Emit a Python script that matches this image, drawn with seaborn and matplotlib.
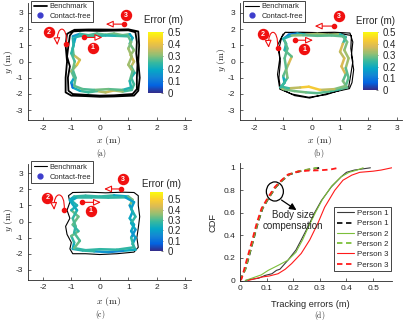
import numpy as np
import pandas as pd
import matplotlib
matplotlib.use("Agg")
import matplotlib.pyplot as plt
import seaborn as sns
from matplotlib.collections import LineCollection
from matplotlib.colors import LinearSegmentedColormap, Normalize
from matplotlib.patches import FancyArrowPatch, Ellipse
from matplotlib.path import Path
from matplotlib.lines import Line2D
from matplotlib.cm import ScalarMappable

# ---------------- data ----------------
# Panel (a) benchmark trajectory (two laps)
bench_a_x = [-0.95, -0.5, 0.0, 0.5, 1.0, 1.25, 1.3, 1.28, 1.32, 1.3, 1.3, 1.15, 0.5, 0.0, -0.5, -0.95, -1.1, -1.12, -1.05, -1.15, -1.1, -1.05, -0.9,
             -0.4, 0.0, 0.5, 1.0, 1.35, 1.38, 1.35, 1.4, 1.35, 1.2, 0.5, 0.0, -0.5, -1.0, -1.2, -1.2, -1.15, -1.2, -1.15, -0.95]
bench_a_y = [1.85, 1.9, 1.88, 1.9, 1.92, 1.8, 1.2, 0.5, -0.2, -1.0, -1.7, -2.0, -2.08, -2.1, -2.05, -2.0, -1.8, -1.0, -0.3, 0.3, 1.0, 1.6, 1.95,
             1.97, 1.97, 1.96, 1.98, 1.85, 1.0, 0.0, -1.0, -1.8, -2.1, -2.15, -2.17, -2.13, -2.1, -1.9, -1.0, 0.0, 1.0, 1.7, 1.9]
# Panel (a) contact-free trajectory with its error (m)
track_a_x = [-0.95, -0.7, -0.4, -0.1, 0.2, 0.5, 0.8, 1.05, 1.15, 1.05, 1.2, 1.08, 1.2, 1.1, 1.22, 1.1, 1.2, 1.12, 0.8, 0.5, 0.2, -0.1, -0.4, -0.7,
             -0.95, -1.0, -0.9, -1.0, -0.8, -0.7, -0.92, -0.95, -0.9, -0.85, -0.6, -0.2, 0.2, 0.6, 1.0, 1.1, 1.0, 1.12, 1.0, 1.15, 1.05, 1.1,
             0.8, 0.3, -0.2, -0.6, -0.9, -0.85, -0.95, -0.88, -1.0, -0.92, -0.95]
track_a_y = [1.55, 1.7, 1.62, 1.72, 1.65, 1.72, 1.62, 1.68, 1.45, 1.1, 0.7, 0.4, 0.0, -0.3, -0.7, -1.0, -1.4, -1.75, -1.85, -1.78, -1.9, -1.82, -1.9, -1.8,
             -1.6, -1.3, -1.0, -0.6, -0.2, 0.1, 0.4, 0.8, 1.2, 1.5, 1.6, 1.55, 1.6, 1.58, 1.55, 1.2, 0.8, 0.3, -0.2, -0.6, -1.2, -1.6,
             -1.75, -1.7, -1.75, -1.7, -1.5, -1.0, -0.5, 0.0, 0.5, 1.0, 1.45]
track_a_e = [0.10, 0.22, 0.28, 0.25, 0.30, 0.27, 0.32, 0.25, 0.12, 0.30, 0.28, 0.35, 0.40, 0.30, 0.25, 0.20, 0.30, 0.22, 0.30, 0.35, 0.38, 0.30, 0.22, 0.28,
             0.12, 0.06, 0.30, 0.25, 0.40, 0.42, 0.30, 0.25, 0.20, 0.15, 0.30, 0.22, 0.25, 0.20, 0.30, 0.25, 0.35, 0.30, 0.35, 0.30, 0.25, 0.20,
             0.25, 0.30, 0.28, 0.25, 0.30, 0.25, 0.28, 0.30, 0.22, 0.25, 0.20]

# Panel (b)
bench_b_x = [-0.93, -0.4, 0.2, 0.8, 1.35, 1.45, 1.4, 1.48, 1.42, 1.33, 0.6, -0.07, -0.6, -1.1, -1.15, -1.1, -1.15, -1.05, -0.93,
             -0.5, 0.3, 1.0, 1.4, 1.38, 1.45, 1.36, 1.3, 0.5, -0.1, -0.7, -1.12, -1.2, -1.12, -1.2, -1.0]
bench_b_y = [1.79, 1.8, 1.78, 1.8, 1.75, 1.2, 0.4, -0.5, -1.3, -1.67, -1.95, -2.25, -2.1, -1.67, -1.0, 0.0, 0.8, 1.5, 1.79,
             1.76, 1.74, 1.72, 1.6, 0.8, 0.0, -1.0, -1.6, -2.05, -2.2, -2.0, -1.7, -0.8, 0.2, 1.0, 1.7]
track_b_x = [-0.95, -0.8, -0.5, -0.2, 0.2, 0.6, 1.0, 1.2, 1.1, 1.0, 1.15, 1.05, 1.2, 1.1, 1.25, 1.0, 0.6, 0.2, -0.2, -0.6, -1.0, -1.1,
             -0.95, -1.0, -0.9, -0.8, -0.7, -0.95, -0.9, -1.0, -0.7, -0.3, 0.2, 0.7, 1.1, 1.25, 1.15, 1.3, 1.2, 1.3, 1.2, 0.8, 0.3,
             -0.1, -0.4, -0.8, -1.05, -0.85, -0.9, -0.95, -0.85, -0.95]
track_b_y = [1.45, 1.65, 1.72, 1.65, 1.7, 1.65, 1.68, 1.5, 1.1, 0.6, 0.2, -0.3, -0.8, -1.2, -1.6, -1.7, -1.85, -1.95, -1.9, -1.82, -1.7, -1.6,
             -1.3, -0.9, -0.5, -0.1, 0.3, 0.7, 1.1, 1.4, 1.6, 1.62, 1.58, 1.6, 1.55, 1.2, 0.7, 0.2, -0.4, -1.0, -1.5, -1.7, -1.75,
             -1.55, -1.6, -1.65, -1.55, -1.0, -0.4, 0.2, 0.8, 1.3]
track_b_e = [0.10, 0.15, 0.08, 0.35, 0.30, 0.35, 0.30, 0.15, 0.35, 0.40, 0.30, 0.45, 0.30, 0.25, 0.35, 0.20, 0.30, 0.25, 0.30, 0.28, 0.30, 0.35,
             0.10, 0.30, 0.25, 0.40, 0.35, 0.20, 0.25, 0.15, 0.30, 0.30, 0.25, 0.30, 0.25, 0.30, 0.30, 0.35, 0.30, 0.25, 0.30, 0.30, 0.40,
             0.45, 0.40, 0.30, 0.20, 0.30, 0.30, 0.25, 0.30, 0.25]

# Panel (c)
bench_c_x = [-0.95, -0.4, 0.2, 0.8, 1.2, 1.35, 1.35, 1.4, 1.35, 1.3, 1.35, 1.2, 0.6, 0.0, -0.5, -0.95, -1.05, -1.0, -1.15, -1.2, -1.05, -1.15, -1.05, -1.1, -0.95]
bench_c_y = [1.8, 1.82, 1.78, 1.82, 1.8, 1.6, 1.0, 0.3, -0.4, -1.0, -1.6, -1.9, -2.0, -2.05, -2.0, -2.0, -1.7, -1.3, -0.8, -0.3, 0.2, 0.7, 1.2, 1.6, 1.8]
track_c_x = [-1.05, -0.9, -0.5, 0.0, 0.5, 1.0, 1.15, 1.05, 1.15, 1.05, 1.2, 1.1, 1.25, 1.15, 1.25, 0.8, 0.3, -0.2, -0.6, -0.95, -0.9, -1.0,
             -0.75, -0.95, -0.75, -1.0, -0.8, -1.0, -0.8, -0.3, 0.3, 0.9, 1.2, 1.1, 1.25, 1.1, 1.25, 1.1, 1.2, 0.6, 0.0, -0.5, -0.9,
             -0.7, -0.9, -0.85, -0.95, -0.8, -1.05]
track_c_y = [1.35, 1.55, 1.6, 1.55, 1.62, 1.55, 1.35, 1.0, 0.6, 0.2, -0.2, -0.6, -1.0, -1.4, -1.75, -1.82, -1.9, -1.85, -1.8, -1.7, -1.3, -0.9,
             -0.6, -0.2, 0.3, 0.7, 1.0, 1.3, 1.5, 1.5, 1.48, 1.5, 1.2, 0.8, 0.3, -0.1, -0.5, -1.0, -1.6, -1.75, -1.72, -1.78, -1.65,
             -1.2, -0.7, -0.3, 0.2, 0.7, 1.3]
track_c_e = [0.15, 0.30, 0.25, 0.30, 0.25, 0.20, 0.45, 0.25, 0.10, 0.30, 0.15, 0.30, 0.10, 0.30, 0.25, 0.20, 0.10, 0.25, 0.30, 0.20, 0.25, 0.30,
             0.35, 0.20, 0.45, 0.20, 0.30, 0.20, 0.25, 0.30, 0.25, 0.30, 0.10, 0.30, 0.20, 0.35, 0.10, 0.25, 0.30, 0.25, 0.30, 0.25, 0.30,
             0.35, 0.25, 0.30, 0.30, 0.25, 0.20]

# Panel (d) CDF curves
p1_solid_x = [0.02, 0.04, 0.07, 0.094, 0.12, 0.137, 0.15, 0.18, 0.21, 0.23, 0.256, 0.28, 0.306, 0.343, 0.38, 0.40, 0.43, 0.46, 0.49]
p1_solid_y = [0.0, 0.01, 0.02, 0.045, 0.06, 0.09, 0.10, 0.18, 0.27, 0.36, 0.48, 0.60, 0.71, 0.83, 0.92, 0.96, 0.98, 0.99, 1.0]
p2_solid_x = [0.02, 0.056, 0.08, 0.106, 0.143, 0.18, 0.21, 0.235, 0.26, 0.285, 0.31, 0.345, 0.38, 0.41, 0.44, 0.4625]
p2_solid_y = [0.0, 0.03, 0.05, 0.09, 0.134, 0.18, 0.25, 0.36, 0.49, 0.61, 0.72, 0.84, 0.92, 0.96, 0.98, 1.0]
p3_solid_x = [0.03, 0.08, 0.11, 0.143, 0.17, 0.194, 0.23, 0.262, 0.293, 0.318, 0.356, 0.387, 0.42, 0.45, 0.50, 0.53, 0.57]
p3_solid_y = [0.0, 0.03, 0.04, 0.06, 0.10, 0.15, 0.24, 0.36, 0.51, 0.65, 0.80, 0.89, 0.935, 0.96, 0.97, 0.98, 1.0]
p1_dash_x = [0.0, 0.02, 0.03, 0.048, 0.067, 0.085, 0.11, 0.135, 0.16, 0.185, 0.225, 0.26, 0.30]
p1_dash_y = [0.0, 0.1, 0.18, 0.34, 0.51, 0.64, 0.74, 0.83, 0.89, 0.94, 0.97, 0.985, 1.0]
p2_dash_x = [0.0, 0.02, 0.029, 0.047, 0.066, 0.084, 0.109, 0.134, 0.159, 0.183, 0.22, 0.255, 0.29]
p2_dash_y = [0.0, 0.1, 0.18, 0.34, 0.51, 0.64, 0.74, 0.83, 0.89, 0.94, 0.97, 0.985, 1.0]
p3_dash_x = [0.0, 0.006, 0.025, 0.044, 0.063, 0.081, 0.106, 0.131, 0.156, 0.18, 0.218, 0.256, 0.30, 0.34, 0.37]
p3_dash_y = [0.0, 0.015, 0.18, 0.34, 0.51, 0.64, 0.74, 0.83, 0.89, 0.94, 0.967, 0.975, 0.978, 0.985, 1.0]

legend_d_labels = ["Person 1", "Person 1", "Person 2", "Person 2", "Person 3", "Person 3"]
traj_ticks_x = [-2, -1, 0, 1, 2, 3]
traj_ticks_y = [-3, -2, -1, 0, 1, 2, 3]
cbar_ticks = [0, 0.1, 0.2, 0.3, 0.4, 0.5]
cdf_ticks_x = [0, 0.1, 0.2, 0.3, 0.4, 0.5]
cdf_ticklabels_x = ["0", "0.1", "0.2", "0.3", "0.4", "0.5"]
cdf_ticks_y = [0, 0.2, 0.4, 0.6, 0.8, 1.0]
cdf_ticklabels_y = ["0", "0.2", "0.4", "0.6", "0.8", "1"]

# ---------------- style ----------------
sns.set_theme(style="ticks")
plt.rcParams.update({
    "font.family": ["Liberation Sans", "DejaVu Sans"],
    "mathtext.fontset": "cm",
    "axes.unicode_minus": False,
    "axes.linewidth": 0.6,
    "axes.edgecolor": "#262626",
    "xtick.direction": "in", "ytick.direction": "in",
    "xtick.major.size": 2.0, "ytick.major.size": 2.0,
    "xtick.major.width": 0.5, "ytick.major.width": 0.5,
    "xtick.color": "#262626", "ytick.color": "#262626",
    "xtick.labelsize": 6, "ytick.labelsize": 6,
    "xtick.major.pad": 3.5, "ytick.major.pad": 3.5,
})

PARULA = LinearSegmentedColormap.from_list(
    "parula", ["#352a87", "#0363e1", "#1485d4", "#06a7c6", "#38b99e", "#92bf73", "#d9ba56", "#fcce2e", "#f9fb0e"])
RED = "#f01010"
BLUE_DOT = "#3d3dcc"

W, H = 403, 324
fig = plt.figure(figsize=(W / 100, H / 100), dpi=100)


def ax_px(l, t, r, b):
    return fig.add_axes([l / W, 1 - b / H, (r - l) / W, (b - t) / H])


def ftext(x, y, s, **kw):
    fig.text(x / W, 1 - y / H, s, ha="center", va="center", **kw)


def traj_panel(box, xlim, bench_x, bench_y, bench_lw, tr_x, tr_y, tr_e, cmax, cbox, err_pos, ann):
    ax = ax_px(*box)
    sns.lineplot(x=bench_x, y=bench_y, sort=False, estimator=None, color="black", lw=bench_lw, ax=ax, zorder=2)
    pts = np.column_stack([tr_x, tr_y])
    segs = np.stack([pts[:-1], pts[1:]], axis=1)
    e = np.asarray(tr_e)
    norm = Normalize(0, cmax)
    lc = LineCollection(segs, cmap=PARULA, norm=norm, linewidths=1.8, capstyle="round", joinstyle="round", zorder=3)
    lc.set_array((e[:-1] + e[1:]) / 2)
    ax.add_collection(lc)
    ax.set_xlim(*xlim)
    ax.set_ylim(-3.6, 3.6)
    ax.set_xticks(traj_ticks_x)
    ax.set_yticks(traj_ticks_y)
    ax.set_xlabel("")
    ax.set_ylabel("")
    sns.despine(ax=ax)
    # legend
    handles = [Line2D([], [], color="black", lw=bench_lw),
               Line2D([], [], marker="o", ls="", color=BLUE_DOT, ms=3.5)]
    leg = ax.legend(handles, ["Benchmark", "Contact-free"], loc="upper left", bbox_to_anchor=(0.02, 1.02),
                    fontsize=5.4, frameon=True, fancybox=False, edgecolor="#262626", framealpha=1,
                    borderpad=0.3, handlelength=1.8, handletextpad=0.3, labelspacing=0.35, borderaxespad=0)
    leg.get_frame().set_linewidth(0.6)
    # colorbar
    cax = ax_px(*cbox)
    cb = fig.colorbar(ScalarMappable(norm=norm, cmap=PARULA), cax=cax)
    cb.set_ticks(cbar_ticks)
    cb.set_ticklabels([("%g" % t) for t in cbar_ticks])
    cb.outline.set_visible(False)
    cax.tick_params(labelsize=7, length=1.5, width=0.4, direction="in", pad=3, colors="#262626")
    ftext(err_pos[0], err_pos[1], "Error (m)", fontsize=7, color="#262626")
    # annotations
    (c3, a3s, a3e), (c2, a2s, a2top, a2e), (c1, a1s, a1e) = ann
    for (cx, cy), num in [(c1, "1"), (c2, "2"), (c3, "3")]:
        ax.plot([cx], [cy], marker="o", ms=7.2, color=RED, ls="", zorder=6, clip_on=False)
        ax.text(cx, cy, num, color="white", fontsize=5, fontweight="bold", ha="center", va="center", zorder=7)
    for s, e2 in [(a1s, a1e), (a3s, a3e)]:
        arr = FancyArrowPatch(s, e2, arrowstyle="-|>,head_length=0.55,head_width=0.25", mutation_scale=8,
                              lw=0.8, ec=RED, fc="white", shrinkA=0, shrinkB=0, zorder=5)
        ax.add_patch(arr)
        ax.plot([s[0]], [s[1]], marker="o", ms=3, color=RED, zorder=6)
    path = Path([a2s, (a2s[0] + 0.05, a2top), (a2e[0] - 0.05, a2top), a2e],
                [Path.MOVETO, Path.CURVE4, Path.CURVE4, Path.CURVE4])
    arr = FancyArrowPatch(path=path, arrowstyle="-|>,head_length=0.55,head_width=0.25", mutation_scale=8,
                          lw=0.8, ec=RED, fc="white", zorder=5)
    ax.add_patch(arr)
    ax.plot([a2s[0]], [a2s[1]], marker="o", ms=3, color=RED, zorder=6)
    return ax


XL_FS, PL_FS = 7, 5.5

# (a)
traj_panel((28, 3, 191, 120), (-2.52, 3.2), bench_a_x, bench_a_y, 1.3, track_a_x, track_a_y, track_a_e, 0.5,
           (148, 32, 163, 93), (163, 20),
           (((0.91, 2.86), (0.85, 2.30), (0.21, 2.30)),
            ((-1.78, 1.79), (-1.17, 1.05), (2.3), (-1.49, 1.0)),
            ((-0.24, 0.86), (-0.55, 1.48), (0.09, 1.48))))
ftext(109, 141, r"$x\ (\mathrm{m})$", fontsize=XL_FS)
ftext(101.7, 154, r"$\mathrm{(a)}$", fontsize=PL_FS)
ftext(8.3, 62, r"$y\ (\mathrm{m})$", fontsize=XL_FS, rotation=90)

# (b)
traj_panel((240, 3, 402, 120), (-2.52, 3.18), bench_b_x, bench_b_y, 0.8, track_b_x, track_b_y, track_b_e, 0.5,
           (363, 32, 378, 90), (375, 21),
           (((0.95, 2.8), (0.78, 2.18), (0.11, 2.18)),
            ((-1.72, 1.67), (-1.2, 0.84), (2.1), (-1.51, 0.84)),
            ((-0.26, 0.76), (-0.59, 1.31), (0.05, 1.31))))
ftext(320, 141, r"$x\ (\mathrm{m})$", fontsize=XL_FS)
ftext(319, 154, r"$\mathrm{(b)}$", fontsize=PL_FS)
ftext(221.5, 60, r"$y\ (\mathrm{m})$", fontsize=XL_FS, rotation=90)

# (c)
traj_panel((28, 163.5, 191, 279.5), (-2.52, 3.2), bench_c_x, bench_c_y, 0.8, track_c_x, track_c_y, track_c_e, 0.57,
           (150, 192, 163, 251), (162, 184),
           (((0.82, 2.62), (0.74, 2.02), (0.15, 2.02)),
            ((-1.84, 1.48), (-1.25, 0.71), (1.95), (-1.6, 0.71)),
            ((-0.32, 0.66), (-0.63, 1.19), (0.04, 1.19))))
ftext(108.5, 301, r"$x\ (\mathrm{m})$", fontsize=XL_FS)
ftext(100, 314.5, r"$\mathrm{(c)}$", fontsize=PL_FS)
ftext(8.3, 220, r"$y\ (\mathrm{m})$", fontsize=XL_FS, rotation=90)

# (d)
axd = ax_px(240, 163.3, 391.7, 280.5)
BLACK_S, BLACK_D, GREEN, RED_L = "#3a3a3a", "#111111", "#7cbf3a", "#ff1a1a"
DASH = (0, (3.0, 2.0))
curves = [
    (p1_solid_x, p1_solid_y, BLACK_S, "-", 0.8),
    (p1_dash_x, p1_dash_y, BLACK_D, DASH, 1.3),
    (p2_solid_x, p2_solid_y, GREEN, "-", 0.8),
    (p2_dash_x, p2_dash_y, GREEN, DASH, 1.3),
    (p3_solid_x, p3_solid_y, RED_L, "-", 0.8),
    (p3_dash_x, p3_dash_y, RED_L, DASH, 1.3),
]
for cx, cy, col, ls, lw in curves:
    sns.lineplot(x=cx, y=cy, sort=False, estimator=None, color=col, linestyle=ls, lw=lw, ax=axd)
axd.set_xlim(0, 0.57)
axd.set_ylim(0, 1.04)
axd.set_xticks(cdf_ticks_x)
axd.set_xticklabels(cdf_ticklabels_x)
axd.set_yticks(cdf_ticks_y)
axd.set_yticklabels(cdf_ticklabels_y)
axd.set_xlabel("")
axd.set_ylabel("")
sns.despine(ax=axd)
axd.add_patch(Ellipse((0.131, 0.79), 0.064, 0.17, fill=False, ec="black", lw=0.9, zorder=5))
axd.add_patch(FancyArrowPatch((0.156, 0.714), (0.212, 0.625), arrowstyle="-|>,head_length=0.5,head_width=0.25",
                              mutation_scale=8, lw=0.9, color="black", shrinkA=0, shrinkB=0, zorder=5))
axd.text(0.2, 0.53, "Body size\ncompensation", ha="center", va="center", fontsize=7, linespacing=1.15,
         color="#262626", zorder=6)
handles = [Line2D([], [], color=c[2], linestyle=c[3], lw=c[4]) for c in curves]
legd = axd.legend(handles, legend_d_labels, loc="upper right", bbox_to_anchor=(0.995, 0.63), fontsize=5.7,
                  frameon=True, fancybox=False, edgecolor="#262626", framealpha=1, borderpad=0.35,
                  handlelength=2.1, handletextpad=0.4, labelspacing=0.35, borderaxespad=0)
legd.get_frame().set_linewidth(0.6)
ftext(310, 304.5, "Tracking errors (m)", fontsize=6.7, color="#262626")
ftext(320, 316, r"$\mathrm{(d)}$", fontsize=PL_FS)
ftext(213, 222, "CDF", fontsize=6.7, rotation=90, color="#262626")

fig.savefig("out.png", dpi=100)
